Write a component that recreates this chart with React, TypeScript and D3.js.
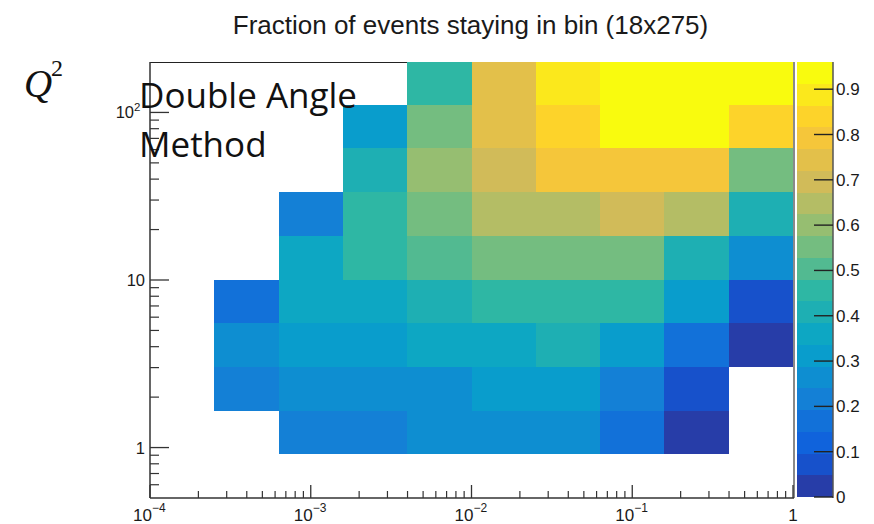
import React from 'react';
import * as d3 from 'd3';

// ---------- data ----------
const chartTitle = 'Fraction of events staying in bin (18x275)';
const axisLabelY = 'Q';
const annotationLines = ['Double Angle', 'Method'];

// bin edges (x = Bjorken x, y = Q^2)
const xEdges = [1e-4, 2.51e-4, 6.31e-4, 1.585e-3, 3.98e-3, 1e-2, 2.51e-2, 6.31e-2, 0.1585, 0.398, 1];
const yEdges = [0.91, 1.66, 3.03, 5.52, 10, 18.3, 33.4, 61, 111, 203];

// fraction per cell; row 0 = lowest Q^2 bin, column 0 = lowest x bin
const row0 = [null, null, 0.21, 0.21, 0.26, 0.26, 0.26, 0.17, 0.02, null];
const row1 = [null, 0.21, 0.26, 0.26, 0.26, 0.31, 0.31, 0.21, 0.07, null];
const row2 = [null, 0.26, 0.31, 0.31, 0.36, 0.36, 0.41, 0.31, 0.17, 0.02];
const row3 = [null, 0.17, 0.36, 0.36, 0.41, 0.45, 0.45, 0.45, 0.31, 0.07];
const row4 = [null, null, 0.36, 0.45, 0.50, 0.55, 0.55, 0.55, 0.41, 0.26];
const row5 = [null, null, 0.21, 0.45, 0.55, 0.65, 0.65, 0.70, 0.65, 0.41];
const row6 = [null, null, null, 0.41, 0.60, 0.70, 0.79, 0.79, 0.79, 0.55];
const row7 = [null, null, null, 0.31, 0.55, 0.74, 0.84, 0.94, 0.94, 0.84];
const row8 = [null, null, null, null, 0.45, 0.74, 0.89, 0.94, 0.94, 0.94];
const fractions: (number | null)[][] = [row0, row1, row2, row3, row4, row5, row6, row7, row8];

const xMajorTicks = [1e-4, 1e-3, 1e-2, 1e-1, 1];
const xMajorExps = ['\u22124', '\u22123', '\u22122', '\u22121', ''];
const yMajorTicks = [1, 10, 100];
const yMajorLabels = ['1', '10', '10'];
const yMajorExps = ['', '', '2'];
const zTicks = [0, 0.1, 0.2, 0.3, 0.4, 0.5, 0.6, 0.7, 0.8, 0.9];
const zMax = 0.96;
const nContours = 20;

// ---------- palette (ROOT kBird) ----------
const birdStops = [0.0, 0.125, 0.25, 0.375, 0.5, 0.625, 0.75, 0.875, 1.0];
const birdR = [0.2082, 0.0592, 0.078, 0.0232, 0.1802, 0.5301, 0.8186, 0.9956, 0.9764];
const birdG = [0.1664, 0.3599, 0.5041, 0.6419, 0.7178, 0.7492, 0.7328, 0.7862, 0.9832];
const birdB = [0.5293, 0.8684, 0.8385, 0.7914, 0.6425, 0.4662, 0.3499, 0.1968, 0.0539];
const birdScaleR = d3.scaleLinear(birdStops, birdR).clamp(true);
const birdScaleG = d3.scaleLinear(birdStops, birdG).clamp(true);
const birdScaleB = d3.scaleLinear(birdStops, birdB).clamp(true);
function bird(t: number) {
  return d3.rgb(birdScaleR(t) * 255, birdScaleG(t) * 255, birdScaleB(t) * 255).formatHex();
}
function bandColor(i: number) {
  const k = Math.floor((i + 0.99) * 255 / nContours);
  return bird(k / 254);
}
function valueColor(v: number) {
  const i = Math.min(nContours - 1, Math.floor(v / (zMax / nContours)));
  return bandColor(i);
}

// ---------- layout ----------
const W = 874, H = 524;
const L = 150, R = 793, T = 62, B = 498;
const cbL = 797, cbR = 833;

const xs = d3.scaleLog().domain([1e-4, 1]).range([L, R]);
const ys = d3.scaleLog().domain([0.5, 200]).range([B, T]);
const zs = d3.scaleLinear().domain([0, zMax]).range([B - 1, T]);

const sans = "'Liberation Sans', Arial, Helvetica, sans-serif";

export default function App() {
  const xMinor = xs.ticks().filter((t) => !xMajorTicks.some((m) => Math.abs(m - t) / m < 1e-6));
  const yMinor = ys.ticks().filter((t) => !yMajorTicks.some((m) => Math.abs(m - t) / m < 1e-6) && t > 0.5 && t < 200);
  const bands = d3.range(nContours);
  const bandW = zMax / nContours;

  return (
    <svg width={W} height={H} style={{ position: 'absolute', left: 0, top: 0, background: '#fff' }}>
      <defs>
        <clipPath id="frame">
          <rect x={L} y={T} width={R - L} height={B - T} />
        </clipPath>
      </defs>
      {/* title */}
      <text x={470.5} y={34} textAnchor="middle" fontFamily={sans} fontSize={26} fill="#1a1a1a">
        {chartTitle}
      </text>

      {/* top frame line (under cells) */}
      <line x1={L} x2={R} y1={T + 0.5} y2={T + 0.5} stroke="#222" strokeWidth={1.2} />

      {/* cells */}
      <g clipPath="url(#frame)" shapeRendering="crispEdges">
        {fractions.map((row, r) =>
          row.map((v, c) =>
            v == null ? null : (
              <rect
                key={`${r}-${c}`}
                x={xs(xEdges[c])}
                y={ys(yEdges[r + 1])}
                width={xs(xEdges[c + 1]) - xs(xEdges[c])}
                height={ys(yEdges[r]) - ys(yEdges[r + 1])}
                fill={valueColor(v)}
              />
            )
          )
        )}
      </g>

      {/* right frame line */}
      <line x1={R + 1} x2={R + 1} y1={T} y2={B} stroke="#8a8a8a" strokeWidth={2} />

      {/* y axis */}
      <line x1={L} x2={L} y1={T} y2={B} stroke="#333" strokeWidth={1.5} />
      {yMajorTicks.map((t) => (
        <line key={`ym${t}`} x1={L} x2={L + 19} y1={ys(t)} y2={ys(t)} stroke="#333" strokeWidth={1.3} />
      ))}
      {yMinor.map((t) => (
        <line key={`yn${t}`} x1={L} x2={L + 9} y1={ys(t)} y2={ys(t)} stroke="#333" strokeWidth={1.2} />
      ))}
      {yMajorTicks.map((t, i) => (
        <text key={`yl${t}`} x={yMajorExps[i] ? 134 : 145} y={ys(t) + 6} textAnchor="end" fontFamily={sans} fontSize={16.5} fill="#1a1a1a">
          {yMajorLabels[i]}
        </text>
      ))}
      {yMajorTicks.map((t, i) =>
        yMajorExps[i] ? (
          <text key={`ye${t}`} x={134} y={ys(t) - 1} fontFamily={sans} fontSize={11.5} fill="#1a1a1a">
            {yMajorExps[i]}
          </text>
        ) : null
      )}

      {/* x axis */}
      <line x1={L} x2={R + 1} y1={B} y2={B} stroke="#333" strokeWidth={1.5} />
      {xMajorTicks.map((t) => (
        <line key={`xm${t}`} x1={xs(t)} x2={xs(t)} y1={B} y2={B - 13} stroke="#333" strokeWidth={1.3} />
      ))}
      {xMinor.map((t) => (
        <line key={`xn${t}`} x1={xs(t)} x2={xs(t)} y1={B} y2={B - 7} stroke="#333" strokeWidth={1.2} />
      ))}
      {xMajorTicks.map((t, i) =>
        xMajorExps[i] ? (
          <text key={`xl${t}`} x={xs(t) - 17} y={521} fontFamily={sans} fontSize={17} fill="#1a1a1a">
            10
            <tspan dy={-9} fontSize={12}>{xMajorExps[i]}</tspan>
          </text>
        ) : (
          <text key={`xl${t}`} x={xs(t)} y={521} textAnchor="middle" fontFamily={sans} fontSize={17} fill="#1a1a1a">
            1
          </text>
        )
      )}

      {/* colour bar */}
      <g shapeRendering="crispEdges">
        {bands.map((i) => (
          <rect
            key={`cb${i}`}
            x={cbL}
            y={zs((i + 1) * bandW)}
            width={cbR - cbL}
            height={zs(i * bandW) - zs((i + 1) * bandW)}
            fill={bandColor(i)}
          />
        ))}
      </g>
      <line x1={cbR} x2={cbR} y1={T} y2={B} stroke="#555" strokeWidth={1.5} />
      {zTicks.map((t) => (
        <line key={`zt${t}`} x1={cbR - 19} x2={cbR} y1={zs(t)} y2={zs(t)} stroke="#222" strokeWidth={1.4} />
      ))}
      {zTicks.map((t) => (
        <text key={`zl${t}`} x={cbR + 3} y={zs(t) + 6} fontFamily={sans} fontSize={17} fill="#1a1a1a">
          {t === 0 ? '0' : d3.format('.1f')(t)}
        </text>
      ))}

      {/* Q^2 label */}
      <text x={24} y={97} fontFamily="'Liberation Serif', 'DejaVu Serif', serif" fontStyle="italic" fontSize={39} fill="#111">
        {axisLabelY}
      </text>
      <text x={51} y={76} fontFamily="'Liberation Serif', 'DejaVu Serif', serif" fontSize={24} fill="#111">
        2
      </text>

      {/* annotation */}
      {annotationLines.map((s, i) => (
        <text key={s} x={139} y={108 + i * 49} fontFamily="'Open Sans', sans-serif" fontSize={35} fill="#111">
          {s}
        </text>
      ))}
    </svg>
  );
}
